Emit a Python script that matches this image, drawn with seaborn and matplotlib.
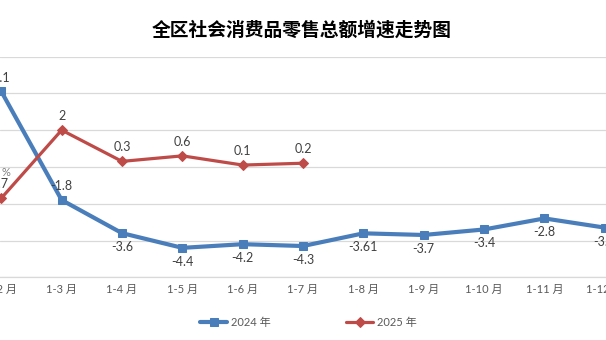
import numpy as np
import pandas as pd
import matplotlib
matplotlib.use("Agg")
import matplotlib.pyplot as plt
import seaborn as sns

categories = ["1-2 月", "1-3 月", "1-4 月", "1-5 月", "1-6 月", "1-7 月",
              "1-8 月", "1-9 月", "1-10 月", "1-11 月", "1-12 月"]
values_2024 = [4.1, -1.8, -3.6, -4.4, -4.2, -4.3, -3.61, -3.7, -3.4, -2.8, -3.3]
values_2025 = [-1.7, 2, 0.3, 0.6, 0.1, 0.2]
labels_2024 = ["4.1", "-1.8", "-3.6", "-4.4", "-4.2", "-4.3", "-3.61", "-3.7", "-3.4", "-2.8", "-3.3"]
labels_2025 = ["-1.7", "2", "0.3", "0.6", "0.1", "0.2"]
series_names = ["2024 年", "2025 年"]
title = "全区社会消费品零售总额增速走势图"
yticks = [-6, -4, -2, 0, 2, 4, 6]

sns.set_theme(style="white")
plt.rcParams["font.family"] = ["Lato", "Noto Sans CJK SC", "DejaVu Sans"]

W, H = 606, 340
fig = plt.figure(figsize=(W / 100, H / 100), dpi=100)
bottom = (H - 277.3) / H
top = (H - 56.5) / H
ax = fig.add_axes([0, bottom, 1, top - bottom])

blue = "#4A7EBB"
red = "#BE4B48"

df24 = pd.DataFrame({"x": np.arange(len(values_2024)), "v": values_2024})
df25 = pd.DataFrame({"x": np.arange(len(values_2025)), "v": values_2025})

sns.lineplot(data=df24, x="x", y="v", ax=ax, color=blue, linewidth=3.0,
             marker="s", markersize=5.5, markeredgecolor=blue, label=series_names[0],
             clip_on=False, zorder=3)
sns.lineplot(data=df25, x="x", y="v", ax=ax, color=red, linewidth=2.3,
             marker="D", markersize=5, markeredgecolor=red, label=series_names[1],
             clip_on=False, zorder=4)

spacing = 60.35
x0 = 1.3
ax.set_xlim(-x0 / spacing, (W - x0) / spacing)
ax.set_ylim(-6, 6)
ax.set_yticks(yticks)
ax.set_yticklabels([])
ax.tick_params(axis="y", length=0)
ax.grid(axis="y", color="#D9D9D9", linewidth=0.9)
ax.grid(axis="x", visible=False)
for s in ["left", "right", "top"]:
    ax.spines[s].set_visible(False)
ax.spines["bottom"].set_color("#D9D9D9")
ax.spines["bottom"].set_linewidth(0.9)
ax.set_xticks(np.arange(len(categories)))
ax.set_xticklabels(categories, fontsize=8, color="#595959")
ax.tick_params(axis="x", length=0, pad=5)
ax.set_xlabel("")
ax.set_ylabel("")

for i, (v, lab) in enumerate(zip(values_2024, labels_2024)):
    off = 10 if i < 2 else -10
    ax.annotate(lab, (i, v), xytext=(0, off), textcoords="offset points",
                ha="center", va="center", fontsize=9, color="#404040", annotation_clip=False)
for i, (v, lab) in enumerate(zip(values_2025, labels_2025)):
    ax.annotate(lab, (i, v), xytext=(0 if i else -3, 10), textcoords="offset points",
                ha="center", va="center", fontsize=9, color="#404040", annotation_clip=False)

fig.text(6 / W, 1 - 172 / H, "%", fontsize=8, color="#808080", ha="center", va="center")
fig.text(302 / W, 1 - 30 / H, title, fontsize=13.5, fontweight="bold",
         family=["Noto Sans CJK SC", "DejaVu Sans"], ha="center", va="center", color="black")

leg = ax.legend(loc="center", bbox_to_anchor=(308.5 / W, 1 - 322.7 / H),
                bbox_transform=fig.transFigure, ncol=2, frameon=False,
                fontsize=8, handlelength=2.4, handletextpad=0.35, columnspacing=6.8)
for t in leg.get_texts():
    t.set_color("#595959")

fig.savefig("out.png", dpi=100)
